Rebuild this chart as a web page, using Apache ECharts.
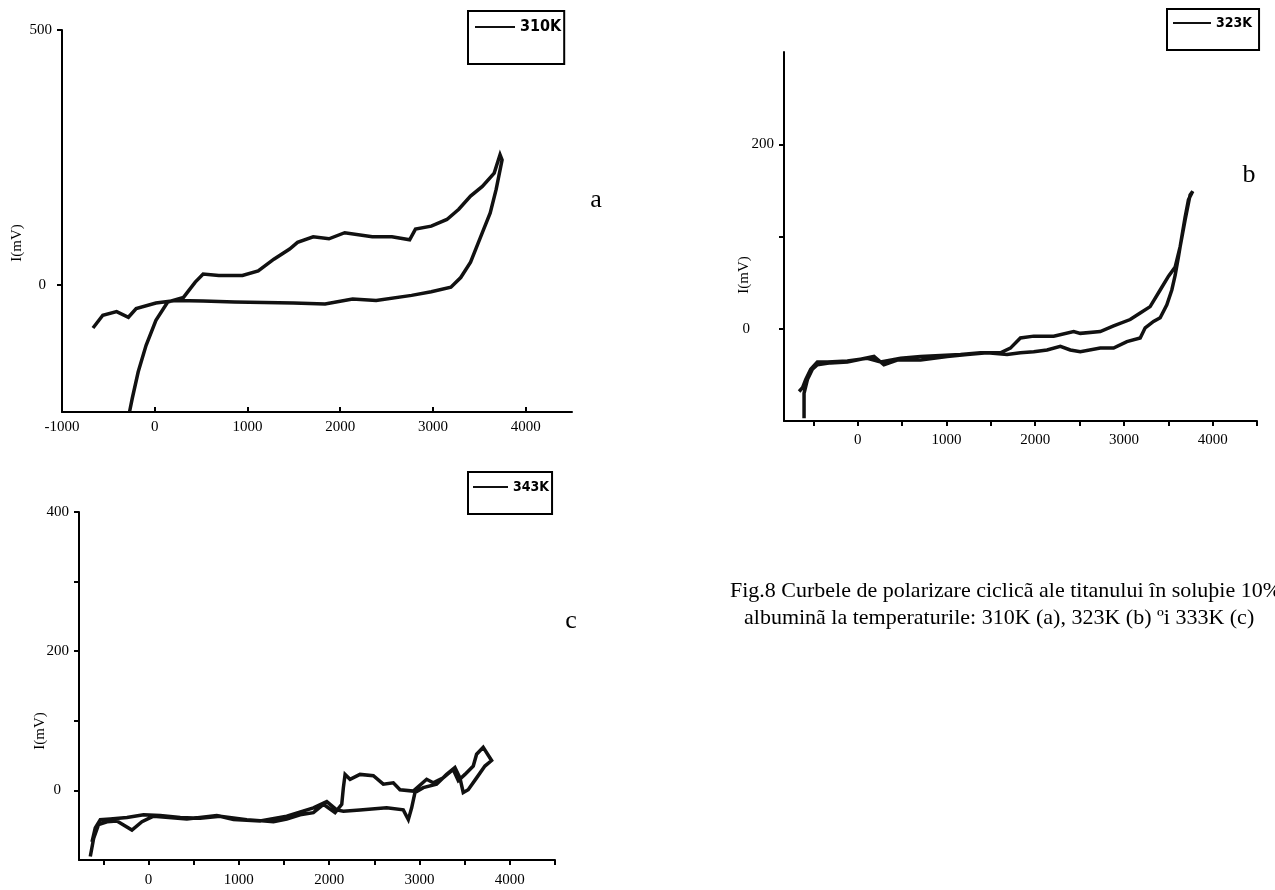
<!DOCTYPE html>
<html><head><meta charset="utf-8">
<script src="https://cdn.jsdelivr.net/npm/echarts@6/dist/echarts.min.js"></script>
<style>html,body{margin:0;padding:0;background:#fff}#c{width:1275px;height:890px}</style>
</head><body><div id="c"></div>
<script>
// Chart a (310K)
const aX = [-666,-560,-411,-284,-200,13,225,522,861,1497,1837,2134,2388,2770,2982,3194,3300,3406,3533,3618,3682,3746,3724,3661,3533,3406,3279,3151,2982,2812,2749,2558,2346,2049,1879,1709,1540,1455,1285,1116,946,691,522,437,310,140,13,-93,-178,-242,-271];
const aY = [-85,-60,-53,-64,-47,-36,-31,-32,-34,-36,-38,-28,-31,-21,-14,-5,14,44,102,141,187,245,255,219,193,174,148,128,115,109,88,94,94,102,90,94,83,70,50,27,18,18,21,5,-25,-34,-70,-119,-171,-223,-249];
// Chart b (323K)
const bX = [-604,-604,-566,-510,-454,-304,-116,184,296,446,709,1009,1234,1459,1684,1834,1984,2134,2284,2396,2509,2734,2884,3034,3184,3240,3334,3409,3484,3540,3578,3615,3653,3690,3728,3776,
            3746,3690,3634,3578,3503,3409,3296,3184,3071,2884,2734,2509,2434,2209,1984,1834,1721,1609,1384,1159,934,709,484,259,109,-116,-341,-454,-529,-585,-622,-660];
const bY = [-97,-70,-55,-44,-39,-37,-36,-30,-39,-34,-34,-30,-28,-26,-28,-26,-25,-23,-19,-23,-25,-21,-21,-14,-10,1,8,12,26,42,58,78,100,121,140,149,
            145,118,89,67,57,42,24,17,10,3,-3,-5,-3,-8,-8,-10,-21,-26,-26,-28,-29,-30,-32,-36,-32,-35,-36,-36,-44,-55,-64,-68];
// Chart c (343K)
const cX = [-645,-608,-553,-460,-350,-184,-73,55,424,756,940,1235,1530,1825,1973,2083,2157,2341,2636,2820,2876,2913,2950,3042,3189,3300,3392,3447,3484,3539,3632,3724,3798,3705,
            3632,3595,3503,3429,3373,3263,3152,3079,2931,2784,2710,2599,2489,2341,2231,2176,2157,2139,2065,1936,1825,1678,1530,1383,1088,793,572,351,129,-55,-239,-424,-534,-590,-626];
const cY = [-95,-69,-49,-45,-44,-57,-45,-37,-41,-36,-42,-44,-37,-25,-16,-28,-30,-28,-25,-28,-42,-25,-3,4,9,23,33,18,-3,1,18,35,43,62,
            52,35,23,14,30,18,11,16,-1,1,11,9,21,23,16,23,4,-20,-32,-20,-32,-35,-41,-45,-42,-37,-40,-39,-36,-35,-39,-41,-42,-54,-74];

const seriesNames = ['310K','323K','343K'];
const xLabelsA = [-1000,0,1000,2000,3000,4000];
const xLabelsBC = [0,1000,2000,3000,4000];
const xTicksBC = [-500,0,500,1000,1500,2000,2500,3000,3500,4000,4500];
const yLabelsA = [0,500];
const yLabelsB = [0,200];
const yTicksB = [0,100,200];
const yLabelsC = [0,200,400];
const yTicksC = [0,100,200,300,400];

const zip = (xs, ys) => xs.map((x, i) => [x, ys[i]]);
const SERIF = '"Liberation Serif","Times New Roman",serif';
const NARROW = '"Liberation Sans Narrow","DejaVu Sans Condensed","Liberation Sans",sans-serif';

function xAxis(grid, min, max, labels, ticks, inside, margin) {
  return {
    gridIndex: grid, type: 'value', min: min, max: max,
    axisLine: { show: true, onZero: false, lineStyle: { color: '#000', width: 2 } },
    splitLine: { show: false },
    axisTick: { show: true, inside: inside, length: 5, customValues: ticks, lineStyle: { color: '#000', width: 2 } },
    axisLabel: { customValues: labels, margin: margin, color: '#000', fontFamily: SERIF, fontSize: 15, formatter: v => String(v) }
  };
}
function yAxis(grid, min, max, labels, ticks, margin, rich, fmt) {
  return {
    gridIndex: grid, type: 'value', min: min, max: max,
    axisLine: { show: true, onZero: false, lineStyle: { color: '#000', width: 2 } },
    splitLine: { show: false },
    axisTick: { show: true, inside: false, length: 5, customValues: ticks, lineStyle: { color: '#000', width: 2 } },
    axisLabel: { customValues: labels, margin: margin, color: '#000', fontFamily: SERIF, fontSize: 15, rich: rich, formatter: fmt }
  };
}
function lineSeries(name, xi, data) {
  return {
    name: name, type: 'line', xAxisIndex: xi, yAxisIndex: xi, data: data,
    showSymbol: false, symbol: 'none', smooth: false, animation: false,
    lineStyle: { color: '#111', width: 3.5, join: 'miter' }, itemStyle: { color: '#111' }
  };
}
function legend(name, left, top, pad, iw, fs) {
  return {
    data: [name], left: left, top: top, orient: 'horizontal',
    borderColor: '#000', borderWidth: 2, padding: pad,
    icon: 'rect', itemWidth: iw, itemHeight: 2,
    textStyle: { color: '#000', fontFamily: NARROW, fontWeight: 'bold', fontSize: fs }
  };
}
const zeroFmt = v => v === 0 ? '{z|0}' : String(v);

const chart = echarts.init(document.getElementById('c'));
chart.setOption({
  backgroundColor: '#fff',
  animation: false,
  grid: [
    { left: 62, top: 30, width: 510, height: 382 },
    { left: 784, top: 52, width: 473, height: 369 },
    { left: 79, top: 512, width: 476, height: 348 }
  ],
  xAxis: [
    xAxis(0, -1000, 4500, xLabelsA, xLabelsA, true, 8),
    xAxis(1, -830, 4500, xLabelsBC, xTicksBC, false, 12),
    xAxis(2, -770, 4500, xLabelsBC, xTicksBC, false, 13)
  ],
  yAxis: [
    yAxis(0, -250, 500, yLabelsA, yLabelsA, 10, { z: { padding: [0, 6, 0, 0] } }, zeroFmt),
    yAxis(1, -100, 300, yLabelsB, yTicksB, 10, { z: { padding: [0, 24, 0, 0] } }, zeroFmt),
    yAxis(2, -100, 400, yLabelsC, yTicksC, 10, { z: { padding: [0, 8, 0, 0] } }, zeroFmt)
  ],
  legend: [
    legend(seriesNames[0], 468, 11, [8, 3, 29, 7], 40, 16),
    legend(seriesNames[1], 1167, 9, [7, 7, 20, 6], 38, 14),
    legend(seriesNames[2], 468, 472, [8, 3, 20, 5], 35, 14)
  ],
  series: [
    lineSeries(seriesNames[0], 0, zip(aX, aY)),
    lineSeries(seriesNames[1], 1, zip(bX, bY)),
    lineSeries(seriesNames[2], 2, zip(cX, cY))
  ],
  graphic: [
    { type: 'text', x: 17, y: 243, rotation: Math.PI / 2, style: { text: 'I(mV)', font: '15px ' + SERIF, fill: '#000', textAlign: 'center', textVerticalAlign: 'middle' } },
    { type: 'text', x: 744, y: 275, rotation: Math.PI / 2, style: { text: 'I(mV)', font: '15px ' + SERIF, fill: '#000', textAlign: 'center', textVerticalAlign: 'middle' } },
    { type: 'text', x: 40, y: 731, rotation: Math.PI / 2, style: { text: 'I(mV)', font: '15px ' + SERIF, fill: '#000', textAlign: 'center', textVerticalAlign: 'middle' } },
    { type: 'text', x: 596, y: 200, style: { text: 'a', font: '26px ' + SERIF, fill: '#000', textAlign: 'center', textVerticalAlign: 'middle' } },
    { type: 'text', x: 1249, y: 175, style: { text: 'b', font: '26px ' + SERIF, fill: '#000', textAlign: 'center', textVerticalAlign: 'middle' } },
    { type: 'text', x: 571, y: 621, style: { text: 'c', font: '26px ' + SERIF, fill: '#000', textAlign: 'center', textVerticalAlign: 'middle' } },
    { type: 'text', x: 730, y: 591, style: { text: 'Fig.8 Curbele de polarizare ciclicã ale titanului în soluþie 10%', font: '22px ' + SERIF, fill: '#000', textAlign: 'left', textVerticalAlign: 'middle' } },
    { type: 'text', x: 744, y: 618, style: { text: 'albuminã la temperaturile: 310K (a), 323K (b) ºi 333K (c)', font: '22px ' + SERIF, fill: '#000', textAlign: 'left', textVerticalAlign: 'middle' } }
  ]
});
</script>
</body></html>
